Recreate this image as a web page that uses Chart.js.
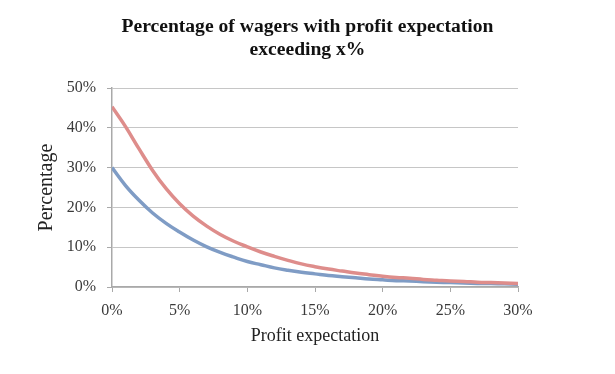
<!DOCTYPE html>
<html>
<head>
<meta charset="utf-8">
<script src="https://cdn.jsdelivr.net/npm/chart.js@4.4.0/dist/chart.umd.min.js"></script>
<style>
  html, body { margin: 0; padding: 0; background: #fff; }
  canvas { display: block; }
</style>
</head>
<body>
<canvas id="chart" width="615" height="374"></canvas>
<script>
// profit expectation (x, in %) and share of wagers exceeding it (y, in %)
const profitSteps = [0, 1, 2, 3, 4, 5, 6, 7, 8, 9, 10, 11, 12, 13, 14, 15,
    16, 17, 18, 19, 20, 21, 22, 23, 24, 25, 26, 27, 28, 29, 30];
const redSeries = [45.3, 40.3, 34.7, 29.3, 24.7, 20.9, 17.8, 15.3, 13.2, 11.5, 10.1,
    8.8, 7.7, 6.7, 5.8, 5.1, 4.5, 4.0, 3.5, 3.1, 2.7,
    2.4, 2.2, 1.9, 1.7, 1.5, 1.4, 1.2, 1.1, 1.0, 0.9];
const blueSeries = [30.0, 25.5, 21.8, 18.6, 16.0, 13.8, 11.8, 10.1, 8.7, 7.5, 6.4,
    5.6, 4.8, 4.2, 3.7, 3.3, 2.9, 2.6, 2.3, 2.0, 1.8,
    1.6, 1.5, 1.35, 1.2, 1.1, 1.0, 0.9, 0.85, 0.8, 0.7];
const xTicks = [0, 5, 10, 15, 20, 25, 30];
const yTicks = [0, 10, 20, 30, 40, 50];

const serif = "'Liberation Serif', 'Times New Roman', serif";
const axisGrey = '#a9a9a9';

function toPoints(values) {
    return profitSteps.map((x, i) => ({ x: x, y: values[i] }));
}

new Chart(document.getElementById('chart'), {
    type: 'line',
    data: {
        datasets: [
            {
                label: 'A',
                data: toPoints(redSeries),
                borderColor: '#de8d8b',
                borderWidth: 3.5,
                pointRadius: 0,
                tension: 0.4
            },
            {
                label: 'B',
                data: toPoints(blueSeries),
                borderColor: '#7f9cc5',
                borderWidth: 3.5,
                pointRadius: 0,
                tension: 0.4
            }
        ]
    },
    options: {
        responsive: false,
        animation: false,
        layout: { padding: 0 },
        plugins: {
            legend: { display: false },
            tooltip: { enabled: false },
            title: {
                display: true,
                text: ['Percentage of wagers with profit expectation', 'exceeding x%'],
                color: '#111',
                font: { family: serif, size: 19.6, weight: 'bold', lineHeight: 1.2 },
                padding: { top: 15, bottom: 26 }
            }
        },
        scales: {
            x: {
                type: 'linear',
                min: 0,
                max: 30,
                afterBuildTicks: (scale) => { scale.ticks = xTicks.map(v => ({ value: v })); },
                afterFit: (scale) => { scale.height = 87; },
                ticks: {
                    callback: (v) => v + '%',
                    color: '#3a3a3a',
                    padding: 9,
                    maxRotation: 0,
                    font: { family: serif, size: 16 }
                },
                grid: {
                    drawOnChartArea: false,
                    tickLength: 5,
                    color: axisGrey
                },
                border: { color: axisGrey, width: 1.5 },
                title: {
                    display: true,
                    text: 'Profit expectation',
                    color: '#222',
                    font: { family: serif, size: 18 },
                    padding: { top: 0, bottom: 27 }
                }
            },
            y: {
                min: 0,
                max: 50,
                afterBuildTicks: (scale) => { scale.ticks = yTicks.map(v => ({ value: v })); },
                afterFit: (scale) => { scale.width = 112; },
                ticks: {
                    callback: (v) => v + '%',
                    color: '#3a3a3a',
                    padding: 11,
                    font: { family: serif, size: 16 }
                },
                grid: {
                    color: '#c6c6c6',
                    borderDash: [1, 1],
                    tickLength: 5,
                    tickColor: axisGrey,
                    tickBorderDash: []
                },
                border: { color: axisGrey, width: 1.5 },
                title: {
                    display: true,
                    text: 'Percentage',
                    color: '#222',
                    font: { family: serif, size: 20 },
                    padding: { top: 35, bottom: 0 }
                }
            },
            // empty right-hand scale: reserves the white margin right of the plot
            spacer: {
                type: 'linear',
                position: 'right',
                min: 0,
                max: 50,
                afterFit: (scale) => { scale.width = 97; },
                ticks: { display: false },
                grid: { display: false },
                border: { display: false }
            }
        }
    }
});
</script>
</body>
</html>
